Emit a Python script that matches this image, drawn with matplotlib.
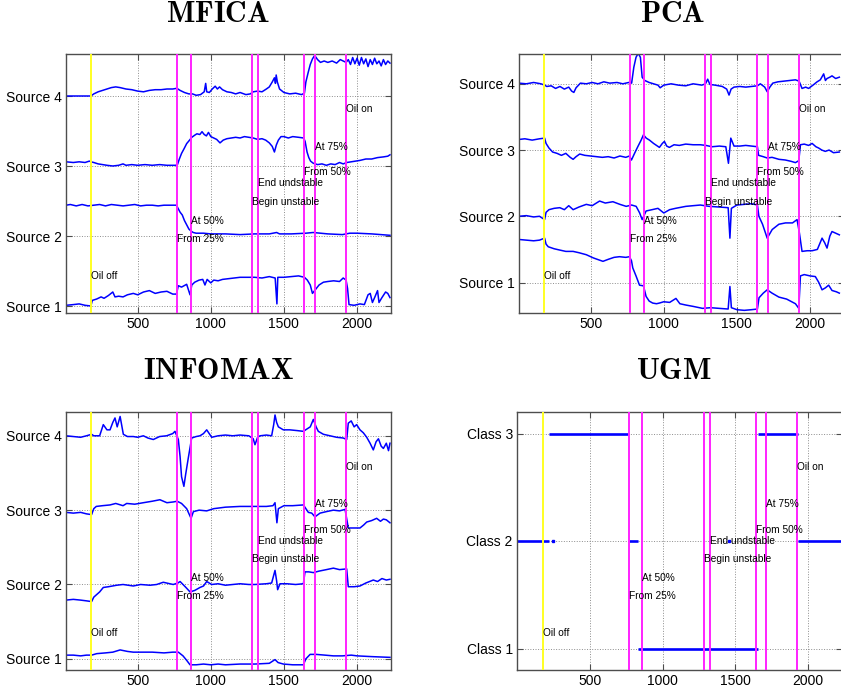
import matplotlib
matplotlib.use('Agg')
import matplotlib.pyplot as plt
import matplotlib.transforms as mtransforms

# event markers, shared by the four panels
event_x = [180, 768, 862, 1285, 1326, 1640, 1709, 1925]
event_names = ['Oil off', 'From 25%', 'At 50%', 'Begin unstable', 'End undstable',
               'From 50%', 'At 75%', 'Oil on']
event_text_y = [1 / 7, 2 / 7, 2.5 / 7, 3 / 7, 3.5 / 7, 3.8 / 7, 4.5 / 7, 5.5 / 7]

xticks = [500, 1000, 1500, 2000]
source_labels = ['Source 1', 'Source 2', 'Source 3', 'Source 4']
class_labels = ['Class 1', 'Class 2', 'Class 3']

# ---- MFICA sources (x, y) ----
mfica_s4 = [(10, 4.0), (100, 4.0), (150, 4.0), (180, 4.0), (200, 4.03), (230, 4.06), (260, 4.08),
            (290, 4.1), (320, 4.12), (350, 4.13), (380, 4.12), (420, 4.1), (460, 4.09), (500, 4.07),
            (540, 4.06), (580, 4.08), (620, 4.09), (660, 4.09), (700, 4.1), (740, 4.1), (768, 4.11),
            (790, 4.08), (820, 4.05), (850, 4.03), (875, 4.03), (900, 4.01), (930, 4.02), (955, 4.06),
            (965, 4.18), (972, 4.06), (990, 4.05), (1010, 4.1), (1030, 4.14), (1045, 4.1), (1060, 4.13),
            (1080, 4.09), (1110, 4.06), (1140, 4.05), (1170, 4.03), (1200, 4.05), (1240, 4.02),
            (1270, 4.03), (1290, 4.06), (1320, 4.07), (1350, 4.06), (1380, 4.1), (1400, 4.13),
            (1420, 4.2), (1435, 4.26), (1442, 4.18), (1447, 4.3), (1455, 4.2), (1470, 4.1), (1500, 4.05),
            (1540, 4.03), (1580, 4.04), (1620, 4.02), (1640, 4.04), (1650, 4.2), (1665, 4.33),
            (1680, 4.45), (1695, 4.53), (1710, 4.58), (1730, 4.52), (1750, 4.48), (1775, 4.5),
            (1800, 4.48), (1830, 4.5), (1860, 4.47), (1885, 4.52), (1905, 4.5), (1925, 4.48),
            (1940, 4.52), (1955, 4.45), (1970, 4.55), (1985, 4.46), (2000, 4.54), (2015, 4.44),
            (2030, 4.55), (2045, 4.46), (2060, 4.53), (2075, 4.42), (2090, 4.52), (2105, 4.45),
            (2120, 4.54), (2135, 4.46), (2150, 4.5), (2165, 4.43), (2180, 4.52), (2195, 4.45),
            (2210, 4.5), (2225, 4.47)]
mfica_s3 = [(10, 3.06), (60, 3.05), (100, 3.06), (140, 3.05), (170, 3.07), (180, 3.06), (200, 3.05),
            (230, 3.03), (260, 3.02), (290, 3.01), (330, 3.0), (370, 3.01), (400, 3.03), (420, 3.01),
            (460, 3.02), (500, 3.01), (550, 3.02), (600, 3.01), (650, 3.02), (700, 3.01), (760, 3.01),
            (772, 3.02), (785, 3.1), (800, 3.18), (818, 3.25), (835, 3.32), (855, 3.37), (870, 3.41),
            (890, 3.44), (905, 3.46), (925, 3.45), (940, 3.49), (955, 3.45), (970, 3.43), (984, 3.48),
            (1000, 3.42), (1020, 3.4), (1040, 3.38), (1063, 3.33), (1085, 3.37), (1110, 3.39),
            (1140, 3.4), (1170, 3.41), (1200, 3.4), (1230, 3.42), (1260, 3.41), (1290, 3.4),
            (1320, 3.38), (1350, 3.39), (1375, 3.37), (1400, 3.33), (1420, 3.28), (1435, 3.2),
            (1448, 3.3), (1462, 3.37), (1480, 3.42), (1500, 3.42), (1530, 3.4), (1560, 3.42),
            (1600, 3.41), (1635, 3.4), (1645, 3.35), (1658, 3.2), (1670, 3.12), (1682, 3.07),
            (1700, 3.04), (1730, 3.02), (1760, 3.03), (1790, 3.01), (1820, 3.03), (1850, 3.02),
            (1880, 3.05), (1905, 3.03), (1930, 3.05), (1960, 3.06), (1990, 3.07), (2020, 3.08),
            (2060, 3.1), (2100, 3.1), (2140, 3.12), (2180, 3.13), (2210, 3.14), (2225, 3.16)]
mfica_s2 = [(10, 2.44), (40, 2.45), (80, 2.43), (120, 2.45), (160, 2.43), (200, 2.44), (240, 2.45),
            (280, 2.43), (320, 2.45), (360, 2.44), (400, 2.43), (440, 2.44), (480, 2.45), (520, 2.43),
            (560, 2.44), (600, 2.44), (640, 2.43), (680, 2.44), (720, 2.44), (765, 2.44), (775, 2.4),
            (790, 2.34), (805, 2.3), (820, 2.22), (835, 2.16), (850, 2.1), (865, 2.07), (880, 2.05),
            (900, 2.04), (950, 2.04), (1000, 2.03), (1100, 2.03), (1200, 2.02), (1300, 2.03),
            (1400, 2.03), (1450, 2.05), (1470, 2.03), (1550, 2.03), (1650, 2.04), (1700, 2.05),
            (1800, 2.03), (1900, 2.02), (1950, 2.04), (2000, 2.04), (2100, 2.03), (2225, 2.01)]
mfica_s1 = [(10, 1.01), (60, 1.02), (100, 1.03), (140, 1.01), (180, 1.0), (190, 1.08), (220, 1.1),
            (250, 1.13), (270, 1.11), (300, 1.15), (330, 1.2), (345, 1.13), (370, 1.14), (400, 1.13),
            (430, 1.16), (470, 1.18), (500, 1.16), (540, 1.2), (580, 1.22), (620, 1.18), (660, 1.2),
            (700, 1.21), (740, 1.17), (765, 1.17), (778, 1.29), (800, 1.27), (835, 1.31), (858, 1.16),
            (870, 1.3), (890, 1.34), (920, 1.37), (945, 1.38), (960, 1.3), (975, 1.38), (1000, 1.33),
            (1020, 1.37), (1050, 1.36), (1080, 1.38), (1120, 1.39), (1160, 1.4), (1200, 1.41),
            (1250, 1.41), (1300, 1.41), (1350, 1.4), (1400, 1.42), (1440, 1.4), (1452, 1.03),
            (1458, 1.41), (1500, 1.41), (1550, 1.42), (1600, 1.43), (1640, 1.41), (1660, 1.37),
            (1680, 1.3), (1695, 1.18), (1710, 1.22), (1740, 1.3), (1770, 1.34), (1800, 1.35),
            (1840, 1.36), (1880, 1.35), (1905, 1.4), (1925, 1.37), (1935, 1.25), (1945, 1.02),
            (1980, 1.01), (2020, 1.03), (2050, 1.02), (2075, 1.16), (2090, 1.18), (2105, 1.05),
            (2120, 1.12), (2140, 1.22), (2150, 1.05), (2170, 1.12), (2195, 1.2), (2210, 1.18),
            (2225, 1.12)]

# ---- PCA sources ----
pca_s4 = [(10, 4.01), (60, 4.0), (110, 4.02), (160, 4.0), (185, 3.98), (200, 3.96), (230, 3.97),
          (260, 3.93), (290, 3.96), (320, 3.92), (350, 3.95), (370, 3.89), (385, 3.87), (400, 3.94),
          (430, 4.01), (470, 4.0), (510, 4.02), (550, 4.0), (590, 4.03), (630, 4.01), (680, 4.02),
          (720, 4.0), (760, 4.02), (780, 4.01), (795, 4.25), (810, 4.4), (825, 4.46), (840, 4.4),
          (852, 4.1), (870, 4.05), (900, 4.02), (930, 4.0), (960, 3.98), (975, 3.94), (1000, 3.98),
          (1050, 4.0), (1100, 3.98), (1150, 3.97), (1200, 4.0), (1260, 3.98), (1285, 4.0),
          (1300, 4.07), (1315, 3.99), (1350, 3.98), (1400, 3.96), (1430, 3.92), (1446, 3.83),
          (1460, 3.92), (1480, 3.95), (1520, 3.96), (1560, 3.95), (1600, 3.96), (1640, 3.97),
          (1660, 4.0), (1690, 3.95), (1707, 3.88), (1725, 3.95), (1745, 4.01), (1780, 4.03),
          (1820, 4.04), (1860, 4.05), (1900, 4.06), (1925, 4.04), (1945, 3.93), (1970, 3.95),
          (1990, 3.93), (2020, 3.98), (2048, 4.03), (2070, 4.06), (2093, 4.15), (2105, 4.05),
          (2116, 4.08), (2135, 4.1), (2150, 4.12), (2175, 4.08), (2200, 4.1)]
pca_s3 = [(10, 3.16), (50, 3.17), (100, 3.15), (150, 3.17), (185, 3.18), (195, 3.1), (215, 3.03),
          (240, 2.97), (270, 2.95), (300, 2.92), (330, 2.95), (360, 2.89), (380, 2.86), (400, 2.9),
          (425, 2.94), (460, 2.92), (500, 2.91), (540, 2.9), (580, 2.89), (620, 2.9), (660, 2.88),
          (700, 2.91), (740, 2.89), (765, 2.91), (779, 2.85), (800, 2.95), (822, 3.05), (845, 3.15),
          (861, 3.23), (880, 3.18), (902, 3.15), (930, 3.1), (970, 3.04), (990, 3.1), (1004, 3.13),
          (1020, 3.06), (1038, 3.04), (1070, 3.08), (1106, 3.07), (1150, 3.09), (1200, 3.08),
          (1250, 3.08), (1287, 3.07), (1330, 3.05), (1380, 3.06), (1424, 3.05), (1442, 2.8),
          (1458, 3.18), (1480, 3.06), (1520, 3.06), (1560, 3.07), (1600, 3.06), (1640, 3.05),
          (1648, 2.92), (1680, 2.9), (1707, 2.88), (1740, 2.89), (1787, 2.86), (1830, 2.85),
          (1870, 2.83), (1900, 2.81), (1923, 2.84), (1934, 3.08), (1960, 3.09), (1990, 3.07),
          (2014, 3.1), (2040, 3.05), (2059, 3.03), (2080, 3.0), (2104, 2.98), (2130, 3.0),
          (2160, 2.96), (2200, 2.97)]
pca_s2 = [(10, 2.0), (60, 2.01), (110, 1.99), (150, 2.0), (185, 1.95), (195, 2.06), (215, 2.1),
          (250, 2.12), (289, 2.13), (320, 2.1), (350, 2.16), (380, 2.1), (420, 2.14), (470, 2.18),
          (510, 2.16), (561, 2.23), (600, 2.2), (652, 2.22), (700, 2.18), (743, 2.15), (780, 2.17),
          (811, 2.15), (835, 2.05), (852, 1.95), (879, 2.08), (920, 2.1), (960, 2.12), (1000, 2.05),
          (1040, 2.1), (1080, 2.12), (1151, 2.15), (1200, 2.16), (1250, 2.17), (1310, 2.15),
          (1378, 2.14), (1440, 2.13), (1452, 1.67), (1462, 2.12), (1500, 2.17), (1550, 2.18),
          (1600, 2.19), (1640, 2.17), (1650, 2.0), (1675, 1.88), (1707, 1.67), (1741, 1.8),
          (1787, 1.88), (1832, 1.9), (1880, 1.9), (1911, 1.95), (1927, 1.75), (1945, 1.47),
          (1980, 1.48), (2014, 1.48), (2050, 1.5), (2082, 1.67), (2100, 1.6), (2116, 1.52),
          (2135, 1.7), (2150, 1.77), (2180, 1.74), (2200, 1.72)]
pca_s1 = [(10, 1.65), (60, 1.64), (110, 1.63), (150, 1.64), (185, 1.67), (195, 1.58), (210, 1.54),
          (250, 1.51), (289, 1.49), (330, 1.47), (380, 1.47), (420, 1.45), (470, 1.42), (520, 1.37),
          (584, 1.32), (620, 1.35), (660, 1.38), (697, 1.39), (740, 1.38), (765, 1.39), (779, 1.33),
          (788, 1.22), (810, 1.1), (834, 0.96), (861, 0.95), (879, 0.79), (900, 0.72), (924, 0.69),
          (950, 0.68), (970, 0.69), (1000, 0.71), (1040, 0.7), (1083, 0.76), (1110, 0.68),
          (1151, 0.66), (1200, 0.64), (1265, 0.61), (1320, 0.62), (1378, 0.61), (1440, 0.6),
          (1452, 0.94), (1462, 0.62), (1500, 0.59), (1550, 0.58), (1600, 0.59), (1640, 0.6),
          (1651, 0.77), (1680, 0.84), (1707, 0.89), (1740, 0.84), (1787, 0.78), (1840, 0.75),
          (1900, 0.68), (1923, 0.61), (1934, 1.1), (1960, 1.12), (2000, 1.1), (2036, 1.09),
          (2060, 1.0), (2082, 0.89), (2105, 0.92), (2127, 0.96), (2150, 0.88), (2180, 0.86),
          (2200, 0.84)]

# ---- INFOMAX sources ----
infomax_s4 = [(10, 4.0), (60, 3.99), (110, 3.98), (150, 4.0), (185, 4.02), (200, 4.0), (240, 4.0),
              (265, 4.15), (290, 4.08), (311, 4.08), (330, 4.18), (345, 4.24), (360, 4.12),
              (380, 4.26), (402, 4.02), (430, 3.99), (470, 3.99), (500, 3.98), (539, 4.0),
              (570, 3.97), (607, 3.95), (650, 3.99), (698, 4.0), (740, 4.03), (755, 4.06),
              (778, 3.95), (790, 3.72), (800, 3.45), (816, 3.32), (828, 3.48), (846, 3.7),
              (869, 3.97), (900, 3.99), (926, 4.0), (950, 4.03), (972, 4.08), (1006, 3.98),
              (1050, 4.0), (1100, 4.01), (1150, 4.0), (1200, 4.01), (1260, 4.0), (1290, 3.96),
              (1302, 3.88), (1320, 3.98), (1337, 4.0), (1380, 4.01), (1416, 4.0), (1430, 4.15),
              (1439, 4.28), (1450, 4.18), (1462, 4.12), (1496, 4.08), (1540, 4.08), (1590, 4.07),
              (1633, 4.06), (1656, 4.09), (1680, 4.12), (1701, 4.22), (1720, 4.12), (1735, 4.06),
              (1770, 4.02), (1815, 4.0), (1860, 3.98), (1906, 3.97), (1929, 3.95), (1940, 4.17),
              (1960, 4.2), (1980, 4.12), (1997, 4.15), (2020, 4.08), (2043, 4.04), (2066, 3.98),
              (2089, 3.9), (2111, 3.81), (2130, 3.92), (2146, 3.96), (2165, 3.86), (2180, 3.83),
              (2200, 3.9), (2215, 3.8), (2225, 3.9)]
infomax_s3 = [(10, 2.97), (60, 2.96), (110, 2.97), (150, 2.95), (185, 2.94), (200, 3.02), (217, 3.05),
              (260, 3.06), (311, 3.07), (350, 3.09), (400, 3.06), (425, 3.09), (480, 3.08),
              (539, 3.1), (600, 3.12), (652, 3.14), (700, 3.1), (743, 3.11), (770, 3.12), (800, 3.09),
              (835, 3.02), (865, 2.89), (881, 2.98), (920, 3.0), (972, 2.99), (1020, 3.02),
              (1100, 3.04), (1200, 3.05), (1300, 3.05), (1380, 3.05), (1425, 3.06), (1439, 3.1),
              (1452, 2.83), (1462, 3.02), (1500, 3.06), (1560, 3.06), (1633, 3.07), (1667, 2.97),
              (1690, 2.96), (1712, 2.91), (1747, 2.96), (1790, 2.98), (1838, 3.0), (1880, 2.99),
              (1918, 3.01), (1940, 2.76), (1980, 2.76), (2020, 2.76), (2045, 2.8), (2066, 2.84),
              (2100, 2.86), (2134, 2.89), (2160, 2.85), (2180, 2.88), (2200, 2.87), (2225, 2.83)]
infomax_s2 = [(10, 1.79), (60, 1.8), (110, 1.79), (150, 1.78), (185, 1.77), (200, 1.83), (217, 1.86),
              (240, 1.9), (265, 1.96), (300, 1.97), (356, 1.99), (400, 2.0), (470, 1.98), (520, 2.0),
              (584, 1.99), (630, 2.0), (675, 2.03), (720, 2.01), (743, 2.0), (775, 2.02), (790, 2.04),
              (830, 1.96), (858, 1.9), (890, 1.92), (926, 1.96), (950, 1.98), (972, 2.04),
              (1006, 2.0), (1050, 2.01), (1100, 1.99), (1150, 2.0), (1200, 2.01), (1260, 2.0),
              (1300, 2.0), (1380, 2.01), (1416, 2.02), (1439, 2.19), (1450, 2.05), (1457, 1.93),
              (1473, 2.01), (1520, 2.01), (1580, 2.0), (1633, 2.01), (1644, 2.17), (1670, 2.17),
              (1701, 2.16), (1740, 2.18), (1790, 2.2), (1838, 2.22), (1880, 2.2), (1929, 2.21),
              (1940, 1.97), (1980, 1.97), (2020, 1.98), (2060, 2.02), (2111, 2.06), (2140, 2.04),
              (2170, 2.08), (2200, 2.06), (2225, 2.07)]
infomax_s1 = [(10, 1.05), (60, 1.05), (110, 1.04), (150, 1.05), (185, 1.05), (220, 1.07), (280, 1.08),
              (330, 1.09), (380, 1.12), (430, 1.1), (470, 1.09), (540, 1.09), (600, 1.09),
              (680, 1.08), (740, 1.09), (778, 1.09), (810, 1.04), (835, 0.98), (858, 0.92),
              (900, 0.92), (950, 0.93), (1000, 0.92), (1050, 0.93), (1100, 0.92), (1200, 0.93),
              (1300, 0.93), (1400, 0.94), (1439, 0.99), (1460, 0.95), (1496, 0.93), (1560, 0.92),
              (1633, 0.92), (1650, 1.0), (1679, 1.06), (1720, 1.06), (1780, 1.05), (1838, 1.04),
              (1900, 1.04), (1960, 1.05), (2000, 1.04), (2100, 1.03), (2225, 1.02)]

# ---- UGM class sequence: segments and single points ----
ugm_start = [1, 223, 768, 830, 1655, 1928]
ugm_end = [223, 768, 830, 1655, 1928, 2232]
ugm_class = [2, 3, 2, 1, 3, 2]
ugm_dot_x = [246, 1458]
ugm_dot_class = [2, 2]

plt.rcParams['font.family'] = 'Liberation Sans'
plt.rcParams['mathtext.fontset'] = 'cm'

W, H = 841, 692
fig = plt.figure(figsize=(W / 100, H / 100), dpi=100)


def box(left, top, right, bottom):
    return [left / W, 1 - bottom / H, (right - left) / W, (bottom - top) / H]


def setup(ax, ylim, yticks, ylabels):
    ax.set_xlim(10, 2232)
    ax.set_ylim(*ylim)
    ax.set_xticks(xticks)
    ax.set_yticks(yticks)
    ax.set_yticklabels(ylabels)
    ax.grid(True, linestyle=':', color='0.55', linewidth=0.7)
    ax.set_axisbelow(True)
    ax.tick_params(direction='in', length=4, width=0.8, color='0.3', labelsize=10,
                   top=True, right=True, pad=3)
    for s in ax.spines.values():
        s.set_color('0.3')
        s.set_linewidth(1.0)
    for i, (ex, name, ty) in enumerate(zip(event_x, event_names, event_text_y)):
        col = '#ffff22' if i == 0 else '#ff22ff'
        ax.axvline(ex, color=col, lw=1.4, zorder=3)
        trans = mtransforms.blended_transform_factory(ax.transData, ax.transAxes)
        ax.text(ex, ty, name, transform=trans, fontsize=7.3, ha='left', va='center', zorder=4)


def plot_sources(ax, series):
    for s in series:
        ax.plot([p[0] for p in s], [p[1] for p in s], color='#0000ff', lw=1.1, zorder=2)


def title(x, y_base, name):
    # y_base: pixel row of the title baseline, from the top
    fig.text(x / W, 1 - y_base / H, r'$\mathbf{%s}$' % name, ha='center', va='baseline',
             fontsize=21.5)


panels = [
    ('MFICA', box(66, 54, 391, 313), (0.9, 4.6), [mfica_s1, mfica_s2, mfica_s3, mfica_s4], (218, 22)),
    ('PCA', box(519, 54, 844, 313), (0.54, 4.45), [pca_s1, pca_s2, pca_s3, pca_s4], (673, 22)),
    ('INFOMAX', box(66, 412, 391, 670), (0.85, 4.32), [infomax_s1, infomax_s2, infomax_s3, infomax_s4], (219, 379)),
]

for name, rect, ylim, series, tpos in panels:
    ax = fig.add_axes(rect)
    plot_sources(ax, series)
    setup(ax, ylim, [1, 2, 3, 4], source_labels)
    title(tpos[0], tpos[1], name)

ax = fig.add_axes(box(517, 412, 842, 670))
for s, e, c in zip(ugm_start, ugm_end, ugm_class):
    ax.plot([s, e], [c, c], color='#0000ff', lw=1.9, solid_capstyle='butt', zorder=2)
ax.plot(ugm_dot_x, ugm_dot_class, ls='none', marker='s', ms=1.8, color='#0000ff', zorder=2)
setup(ax, (0.8, 3.2), [1, 2, 3], class_labels)
ax.set_xlim(1, 2232)
title(673.5, 379, 'UGM')

fig.savefig('out.png', dpi=100)
